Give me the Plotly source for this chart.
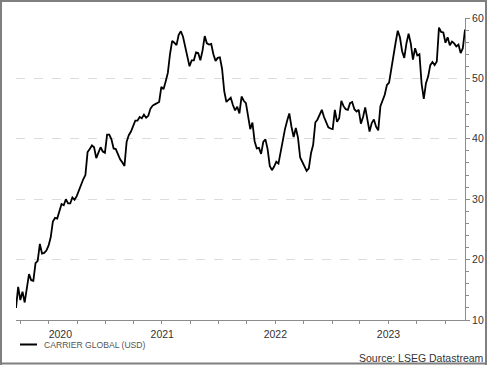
import pandas as pd
import plotly.graph_objects as go

# Weekly closing prices, CARRIER GLOBAL (USD)
start_date = "2020-03-17"
prices = [
    12.0, 15.5, 13.3, 14.7, 12.9, 15.2, 17.6, 16.6, 16.5, 19.4,
    19.8, 22.6, 21.0, 21.1, 21.5, 22.3, 23.7, 26.3, 26.9, 26.8,
    28.1, 29.2, 29.0, 30.0, 29.3, 29.3, 30.3, 29.9, 30.5, 31.5,
    32.3, 33.3, 34.0, 37.8, 38.3, 38.9, 38.6, 36.8, 37.7, 38.6,
    37.9, 37.7, 40.7, 40.7, 39.9, 38.4, 38.3, 37.3, 36.6, 36.1,
    35.5, 39.5, 40.6, 41.2, 42.0, 43.0, 43.0, 43.6, 43.4, 44.0,
    43.5, 43.8, 45.0, 45.5, 45.7, 45.9, 46.1, 48.6, 48.2, 49.5,
    50.9, 54.0, 56.2, 55.9, 55.5, 57.2, 57.8, 56.9, 55.1, 53.7,
    52.0, 53.0, 53.0, 54.3, 54.2, 53.0, 54.6, 57.0, 55.8, 55.6,
    55.7, 54.0, 52.9, 53.4, 53.5, 51.6, 47.9, 46.1, 46.5, 46.8,
    45.6, 44.7, 45.3, 44.2, 47.0, 46.3, 45.9, 44.0, 41.6, 42.7,
    39.6, 38.4, 38.5, 37.5, 39.5, 39.9, 38.3, 35.5, 34.8, 35.4,
    36.2, 35.9, 37.9, 39.3, 41.6, 43.0, 44.2, 42.0, 40.3, 41.8,
    40.2, 36.9, 36.1, 35.6, 34.7, 35.1, 37.6, 39.0, 42.7, 43.2,
    44.0, 44.8, 43.6, 42.6, 41.9, 41.7, 41.6, 44.8, 42.8, 43.4,
    46.3, 45.4, 44.9, 44.8, 45.9, 46.1, 44.9, 44.5, 44.8, 42.5,
    43.6, 45.2, 42.9, 41.2, 42.6, 43.2, 42.0, 41.4, 45.4, 46.3,
    47.3, 48.9, 49.3, 51.5, 54.0, 55.9, 57.9, 56.8, 54.5, 53.4,
    55.8, 57.4, 55.8, 53.1, 55.0, 53.8, 54.0, 49.1, 46.6, 49.2,
    50.3, 52.2, 52.7, 52.2, 52.8, 58.4, 57.7, 57.6, 55.9, 56.8,
    55.5, 56.1, 55.8, 55.3, 55.6, 54.2, 55.0, 58.1,
]
dates = pd.date_range(start=start_date, periods=len(prices), freq="7D")

year_labels = ["2020", "2021", "2022", "2023"]
year_label_dates = ["2020-08-07", "2021-07-02", "2022-07-02", "2023-07-02"]
y_ticks = [10, 20, 30, 40, 50, 60]

series_name = "CARRIER GLOBAL (USD)"
source_text = "Source: LSEG Datastream"

W, H = 487, 365
ML, MR, MT, MB = 16, 22, 18, 45
PW, PH = W - ML - MR, H - MT - MB


def px_x(px):
    return (px - ML) / PW


def px_y(py):
    return (H - MB - py) / PH


FONT = "Liberation Sans, Arial, sans-serif"
AXIS_GRAY = "#8c8c8c"
FRAME_GRAY = "#7f7f7f"

fig = go.Figure()
fig.add_trace(go.Scatter(
    x=dates, y=prices, mode="lines", name=series_name,
    line=dict(color="#000000", width=1.8), showlegend=False,
    hoverinfo="skip",
))

fig.update_layout(
    width=W, height=H, autosize=False,
    margin=dict(l=ML, r=MR, t=MT, b=MB, pad=0),
    paper_bgcolor="#ffffff", plot_bgcolor="#ffffff",
    font=dict(family=FONT, size=10, color="#333333"),
    showlegend=False,
    xaxis=dict(
        type="date", automargin=False,
        range=[dates[0], dates[-1]],
        showgrid=False, zeroline=False,
        showline=True, linecolor=AXIS_GRAY, linewidth=1,
        tickmode="array", tickvals=year_label_dates, ticktext=year_labels,
        ticks="", ticklabelstandoff=4,
        tickfont=dict(family=FONT, size=10.5, color="#333333"),
        minor=dict(ticks="outside", dtick="M3", tick0="2020-01-01",
                   ticklen=3, tickcolor=AXIS_GRAY, tickwidth=1, showgrid=False),
    ),
    yaxis=dict(
        side="right", range=[10, 60], automargin=False,
        tickmode="array", tickvals=y_ticks,
        showgrid=True, gridcolor="#dcdcdc", griddash="dash", gridwidth=1,
        zeroline=False,
        showline=True, linecolor=AXIS_GRAY, linewidth=1,
        ticks="outside", ticklen=4, tickcolor=AXIS_GRAY,
        tickfont=dict(family=FONT, size=10.5, color="#333333"),
        minor=dict(ticks="outside", dtick=2, tick0=10, ticklen=3,
                   tickcolor=AXIS_GRAY, showgrid=False),
    ),
)

# legend sample line + text
fig.add_shape(type="line", xref="paper", yref="paper",
              x0=px_x(20), x1=px_x(37), y0=px_y(344.5), y1=px_y(344.5),
              line=dict(color="#000000", width=2))
fig.add_annotation(xref="paper", yref="paper", x=px_x(42), y=px_y(344.5),
                   xanchor="left", yanchor="middle", showarrow=False,
                   text=series_name,
                   font=dict(family=FONT, size=8.6, color="#555555"))
# source note
fig.add_annotation(xref="paper", yref="paper", x=px_x(485.5), y=px_y(357.5),
                   xanchor="right", yanchor="middle", showarrow=False,
                   text=source_text,
                   font=dict(family=FONT, size=10.5, color="#333333"))
# outer frame (four edges)
for (ax0, ay0, ax1, ay1) in [(0, 1, 487, 1), (0, 363.5, 487, 363.5),
                             (1, 0, 1, 365), (486, 0, 486, 365)]:
    fig.add_shape(type="line", xref="paper", yref="paper",
                  x0=px_x(ax0), x1=px_x(ax1), y0=px_y(ay0), y1=px_y(ay1),
                  line=dict(color=FRAME_GRAY, width=2), layer="above")

fig.write_html(
    "out.html",
    config={"displayModeBar": False, "responsive": False, "staticPlot": True},
    post_script="document.body.style.margin='0';"
                "document.body.style.overflow='hidden';"
                "document.documentElement.style.overflow='hidden';",
)
